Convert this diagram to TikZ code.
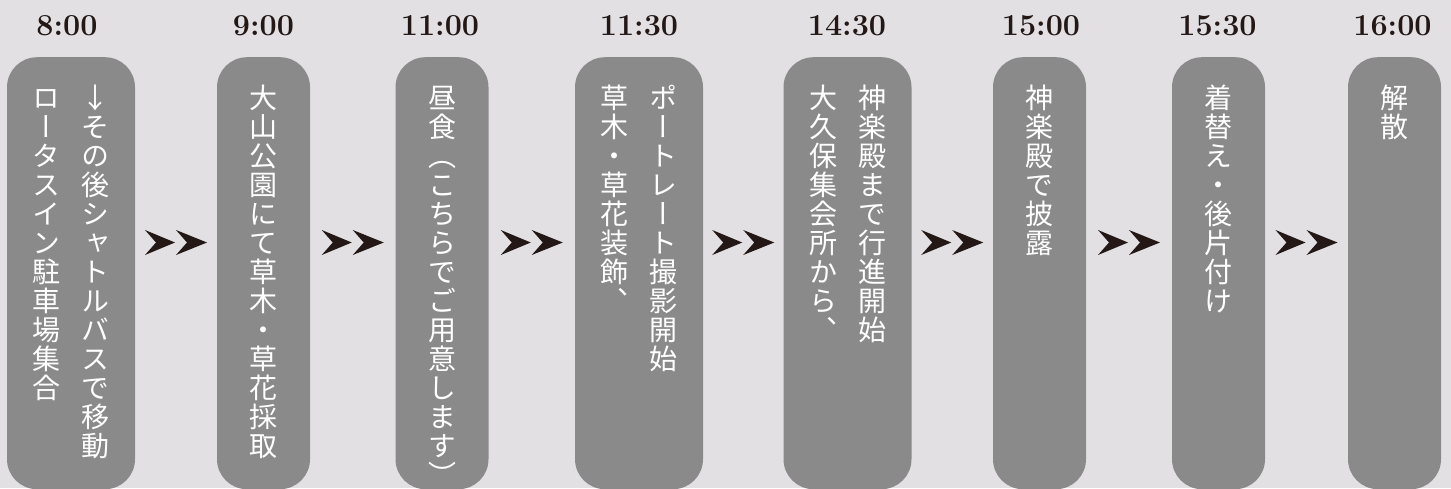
\documentclass[tikz,border=0pt]{standalone}
\usepackage{fontspec}
\newfontfamily\tatefont[RawFeature=+vert]{Noto Sans CJK JP}
\usetikzlibrary{calc}
\definecolor{paper}{HTML}{E2E0E3}
\definecolor{slotgray}{HTML}{8A8A8A}
\definecolor{ink}{HTML}{231815}
\newcommand\tate[1]{\vbox{\baselineskip=29pt\lineskiplimit=-100pt\tateloop#1\relax}}
\def\tateloop#1{\ifx\relax#1\else\hbox to 1em{\hss\vrule height .88em depth .12em width 0pt\relax #1\hss}\expandafter\tateloop\fi}
\tikzset{
  slot/.style={fill=slotgray, rounded corners=30pt, minimum height=432pt, inner sep=0pt, anchor=north},
  wide/.style={slot, minimum width=128pt},
  narrow/.style={slot, minimum width=93pt},
  stamp/.style={anchor=base, text=ink, font=\bfseries\fontsize{30.5}{30.5}\selectfont},
  tatecol/.style={anchor=north, inner sep=0pt, text=white, font=\tatefont\fontsize{28}{29}\selectfont},
  chevs/.pic={
    \fill[ink] (-31,-12.5) -- (-1,0) -- (-31,12.5) -- (-20,0) -- cycle;
    \fill[ink] (0,-12.5) -- (31,0) -- (0,12.5) -- (11,0) -- cycle;
  }
}
\begin{document}
\begin{tikzpicture}[x=1pt,y=-1pt]
\fill[paper] (0,0) rectangle (1451,488);
\useasboundingbox (0,0) rectangle (1451,488);
\node[wide] (box1) at (71,57) {};
\node[narrow] (box2) at (263.5,57) {};
\node[narrow] (box3) at (442,57) {};
\node[wide] (box4) at (639,57) {};
\node[wide] (box5) at (847.5,57) {};
\node[narrow] (box6) at (1039.5,57) {};
\node[narrow] (box7) at (1218.5,57) {};
\node[narrow] (box8) at (1394.5,57) {};
\node[stamp] (time1) at (67,35) {8:00};
\node[stamp] (time2) at (263.5,35) {9:00};
\node[stamp] (time3) at (440,35) {11:00};
\node[stamp] (time4) at (639,35) {11:30};
\node[stamp] (time5) at (847,35) {14:30};
\node[stamp] (time6) at (1041,35) {15:00};
\node[stamp] (time7) at (1217.5,35) {15:30};
\node[stamp] (time8) at (1392.5,35) {16:00};
\node[tatecol] (col1r) at (95.5,84) {\tate{↓その後シャトルバスで移動}};
\node[tatecol] (col1l) at (46.5,84) {\tate{ロータスイン駐車場集合}};
\node[tatecol] (col2) at (263.5,84) {\tate{大山公園にて草木・草花採取}};
\node[tatecol] (col3) at (442,84) {\tate{昼食（こちらでご用意します）}};
\node[tatecol] (col4r) at (663.5,84) {\tate{ポートレート撮影開始}};
\node[tatecol] (col4l) at (614.5,84) {\tate{草木・草花装飾、}};
\node[tatecol] (col5r) at (872,84) {\tate{神楽殿まで行進開始}};
\node[tatecol] (col5l) at (823,84) {\tate{大久保集会所から、}};
\node[tatecol] (col6) at (1039.5,84) {\tate{神楽殿で披露}};
\node[tatecol] (col7) at (1218.5,84) {\tate{着替え・後片付け}};
\node[tatecol] (col8) at (1394.5,84) {\tate{解散}};
\pic at ($(box1.north east)!.5!(box2.north west)+(0,185.5)$) {chevs};
\pic at ($(box2.north east)!.5!(box3.north west)+(0,185.5)$) {chevs};
\pic at ($(box3.north east)!.5!(box4.north west)+(0,185.5)$) {chevs};
\pic at ($(box4.north east)!.5!(box5.north west)+(0,185.5)$) {chevs};
\pic at ($(box5.north east)!.5!(box6.north west)+(0,185.5)$) {chevs};
\pic at ($(box6.north east)!.5!(box7.north west)+(0,185.5)$) {chevs};
\pic at ($(box7.north east)!.5!(box8.north west)+(0,185.5)$) {chevs};
\end{tikzpicture}
\end{document}
